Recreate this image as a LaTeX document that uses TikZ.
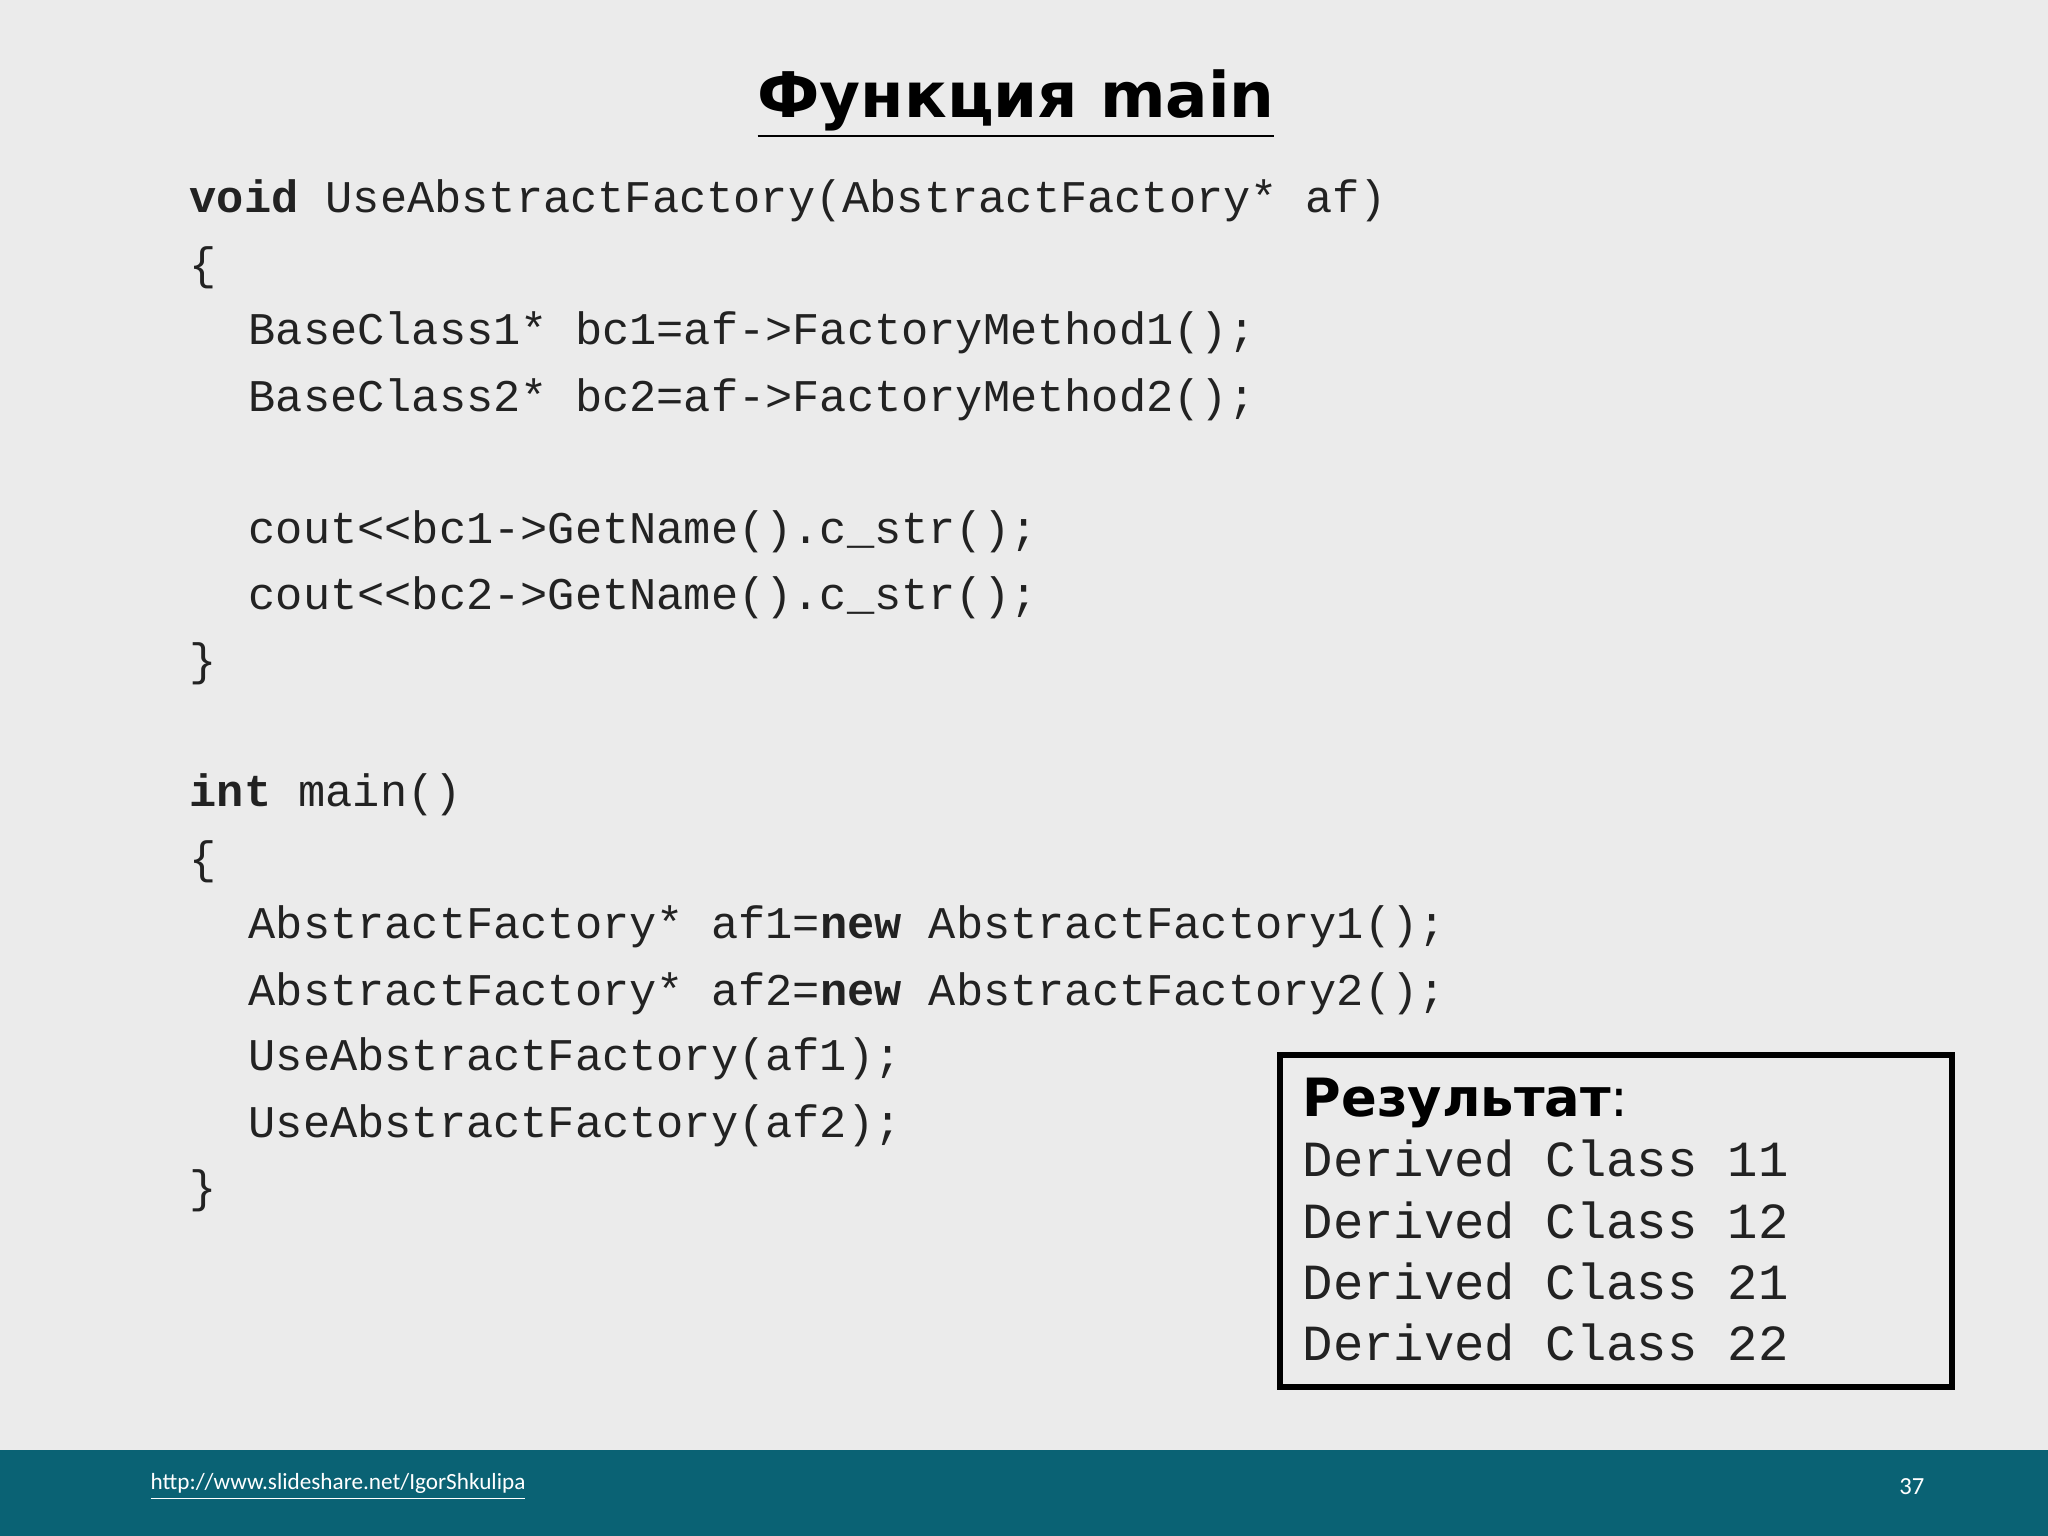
\documentclass[tikz,border=0pt]{standalone}
\usepackage{fontspec}
\setmonofont{Liberation Mono}
\newfontfamily\titlefont{DejaVu Sans}
\newfontfamily\foot{Carlito}
\definecolor{bg}{HTML}{EBEBEB}
\definecolor{band}{HTML}{0A6274}
\definecolor{codec}{HTML}{222222}
\begin{document}
\begin{tikzpicture}[x=1cm,y=-1cm,
  code/.style={anchor=west,inner sep=0pt,font=\ttfamily\fontsize{12.9}{14}\selectfont,text=codec},
  res/.style={anchor=west,inner sep=0pt,font=\ttfamily\fontsize{14.4}{16}\selectfont,text=codec}]
\fill[bg] (0,0) rectangle (20.48,15.36);
\useasboundingbox (0,0) rectangle (20.48,15.36);
\fill[band] (0,14.50) rectangle (20.48,15.36);
\node[font=\titlefont\bfseries\fontsize{17.9}{22}\selectfont] (title) at (10.16,1.04) {\underline{Функция main}};
\def\L{1.89}\def\I{2.48}
\node[code] (l1) at (\L,2.01) {\textbf{void} UseAbstractFactory(AbstractFactory* af)};
\node[code] (l2) at (\L,2.68) {\{};
\node[code] (l3) at (\I,3.33) {BaseClass1* bc1=af->FactoryMethod1();};
\node[code] (l4) at (\I,4.00) {BaseClass2* bc2=af->FactoryMethod2();};
\node[code] (l5) at (\I,5.32) {cout<{}<bc1->GetName().c\_str();};
\node[code] (l6) at (\I,5.98) {cout<{}<bc2->GetName().c\_str();};
\node[code] (l7) at (\L,6.64) {\}};
\node[code] (l8) at (\L,7.95) {\textbf{int} main()};
\node[code] (l9) at (\L,8.62) {\{};
\node[code] (l10) at (\I,9.27) {AbstractFactory* af1=\textbf{new} AbstractFactory1();};
\node[code] (l11) at (\I,9.94) {AbstractFactory* af2=\textbf{new} AbstractFactory2();};
\node[code] (l12) at (\I,10.59) {UseAbstractFactory(af1);};
\node[code] (l13) at (\I,11.26) {UseAbstractFactory(af2);};
\node[code] (l14) at (\L,11.91) {\}};
\draw[line width=1.6pt] (12.80,10.55) rectangle (19.52,13.87);
\node[anchor=west,inner sep=0pt,font=\titlefont\fontsize{15}{18}\selectfont] (rh) at (13.02,11.03) {\textbf{Результат}:};
\node[res] (r1) at (13.02,11.58) {Derived Class 11};
\node[res] (r2) at (13.02,12.20) {Derived Class 12};
\node[res] (r3) at (13.02,12.81) {Derived Class 21};
\node[res] (r4) at (13.02,13.42) {Derived Class 22};
\node[anchor=west,inner sep=0pt,text=white,font=\foot\fontsize{6.6}{8}\selectfont] (url) at (1.50,14.87) {\underline{http://www.slideshare.net/IgorShkulipa}};
\node[anchor=east,inner sep=0pt,text=white,font=\foot\fontsize{7}{9}\selectfont] (pg) at (19.25,14.87) {37};
\end{tikzpicture}
\end{document}
